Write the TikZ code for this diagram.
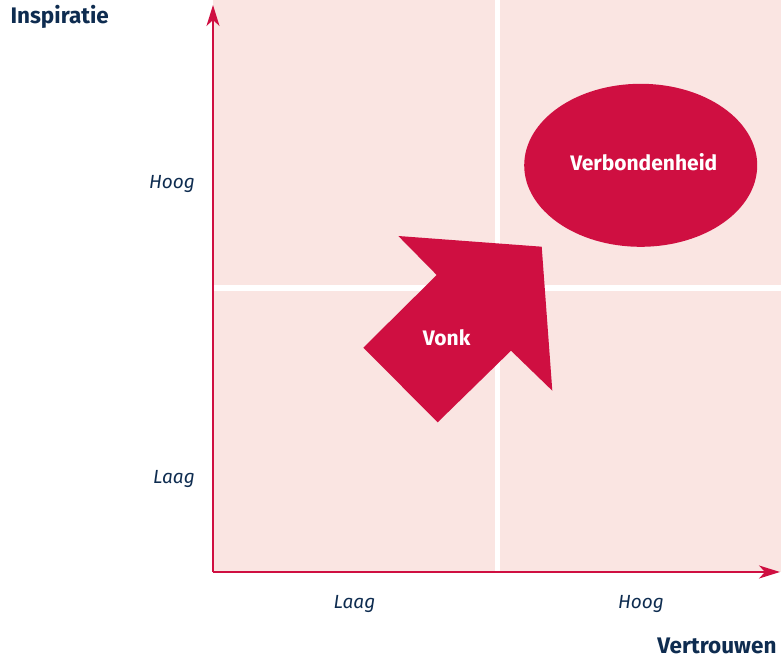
\documentclass[tikz,border=0pt]{standalone}
\usepackage{fontspec}
\setmainfont{Fira Sans}
\usepackage{xcolor}
\usepackage{tikz}
\usetikzlibrary{arrows.meta}
\usetikzlibrary{shapes.geometric}
\definecolor{rood}{HTML}{CF0F41}
\definecolor{roze}{HTML}{FAE5E2}
\definecolor{marine}{HTML}{0E2C50}
\tikzset{
	as/.style={draw=rood,line width=1.6pt,-{Stealth[length=21pt,width=13pt,inset=6pt]}},
	schaal/.style={font=\itshape\fontsize{19}{22}\selectfont,text=marine,anchor=base},
	titel/.style={font=\bfseries\fontsize{22.5}{26}\selectfont,text=marine,anchor=base},
	binnen/.style={font=\bfseries\fontsize{21}{25}\selectfont,text=white,anchor=base}
}
\begin{document}
\begin{tikzpicture}[x=1pt,y=-1pt]
	 \useasboundingbox (0,0) rectangle (781,660);
	 % vier kwadranten
	 \fill[roze] (213,0) rectangle (781,572);
	 \draw[white,line width=5.5pt] (497.5,0) -- (497.5,572);
	 \draw[white,line width=5.5pt] (213,287.8) -- (781,287.8);
	 % assen
	 \coordinate (o) at (213,572);
	 \coordinate (ytop) at (213,5);
	 \coordinate (xend) at (780,572);
	 \draw[as] (o) -- (ytop);
	 \draw[as] (o) -- (xend);
	 \node[titel,anchor=base west] (inspiratie) at (7,24) {Inspiratie};
	 \node[titel,anchor=base east] (vertrouwen) at (780,653) {Vertrouwen};
	 \node[schaal] (hoogy) at (172,189) {Hoog};
	 \node[schaal] (laagy) at (174,483) {Laag};
	 \node[schaal] (laagx) at (354.5,608) {Laag};
	 \node[schaal] (hoogx) at (641,608) {Hoog};
	 % vonk met pijl
	 \fill[rood] (363.3,347.7) -- (436.7,275) -- (398.3,236) -- (541.7,246.7)
		 -- (552.3,390.7) -- (511,350.7) -- (437.7,422.3) -- cycle;
	 \node[binnen] (vonk) at (446.7,345) {Vonk};
	 % verbondenheid
	 \node[ellipse,fill=rood,minimum width=233pt,minimum height=163pt,inner sep=0pt] (verbonden) at (640.7,165.3) {};
	 \node[binnen] (verbondenheid) at (643.8,170.7) {Verbondenheid};
\end{tikzpicture}
\end{document}
